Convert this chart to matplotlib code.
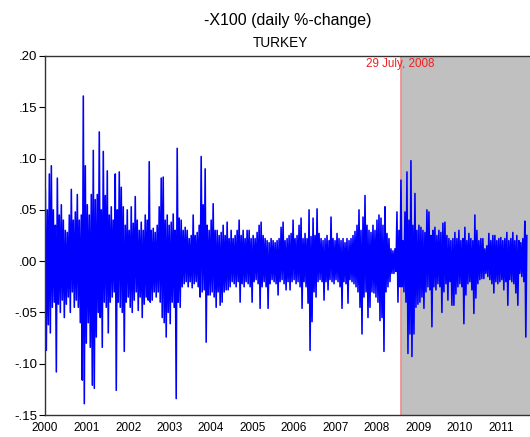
import pandas as pd
import matplotlib.pyplot as plt
import matplotlib.dates as mdates

# daily %-change of X100 (thousandths), in time order
p2000_01 = [69, -87, 50, -62, 85, -70, 93, -45, 50, -40,
            35, -108, 81, -42, 45, -50, 55, -38, 40, -55,
            30, -42, 28, -35, 45, -50, 70, -30, 40, -45,
            48, -38, 65, -45, 40, -60, 45, -116, 161, -139,
            93, -80, 55, -60, 45, -84, 65, -121, 108, -124,
            60, -74, 65, -50, 126, -55, 50, -84, 107, -40,
            64, -45, 88, -70, 45, -40, 53, -35, 40]
p2001_03 = [-30, 85, -126, 50, -40, 87, -45, 72, -50, 53,
            -88, 35, -40, 50, -35, 30, -45, 53, -50, 37,
            -38, 63, -30, 40, -48, 30, -35, 38, -55, 30,
            -42, 45, -35, 40, -38, 97, -40, 30, -38, 32,
            -30, 28, -35, 35, -30, 53, -40, 81, -55, 82,
            -60, 40, -74, 45, -50, 35, -61, 38, -40, 46,
            -45, 30, -134, 110, -40, 42, -45, 40]
p2003_04 = [-25, 30, -22, 33, -20, 30, -25, 22, -20, 25,
            -26, 45, -22, 25, -20, 28, -25, 35, -35, 102,
            -30, 55, -28, 90, -79, 35, -33, 30, -33, 40,
            -30, 56, -35, 30, -45, 30, -30, 25, -43, 28,
            -40, 35, -30, 25, -28, 38, -28, 22, -25, 30,
            -20, 22, -22, 25, -25, 30, -20, 40, -40, 25,
            -22, 30, -25, 22, -20, 30, -22, 30]
p2005_06 = [-25, 22, -40, 25, -20, 22, -18, 28, -22, 35,
            -46, 38, -25, 25, -20, 22, -25, 20, -46, 18,
            -22, 22, -18, 20, -20, 18, -22, 20, -33, 22,
            -20, 33, -18, 38, -22, 20, -28, 22, -20, 25,
            -28, 27, -20, 40, -18, 22, -22, 25, -20, 35,
            -25, 42, -46, 22, -20, 27, -25, 22, -41, 50,
            -87, 24, -59, 42, -30, 25, -35, 51]
p2006_08 = [-20, 27, -18, 22, -20, 20, -38, 22, -20, 25,
            -28, 20, -18, 43, -20, 22, -22, 20, -18, 27,
            -20, 22, -25, 20, -46, 22, -20, 18, -22, 22,
            -41, 20, -18, 22, -20, 25, -22, 29, -25, 35,
            -30, 50, -45, 30, -71, 43, -35, 64, -30, 35,
            -55, 30, -45, 28, -30, 35, -31, 30, -35, 40,
            -40, 45, -58, 42, -55, 35, -88, 53]
p2008_10 = [-30, 27, -25, 22, -20, 12, -12, 10, -12, 12,
            -10, 48, -40, 30, -25, 79, -25, 20, -30, 48,
            -40, 87, -90, 40, -71, 98, -93, 35, -71, 66,
            -45, 30, -42, 35, -40, 33, -35, 30, -46, 28,
            -30, 50, -25, 48, -28, 25, -64, 30, -25, 33,
            -28, 25, -22, 30, -25, 28, -50, 37, -30, 38,
            -22, 25, -38, 22, -20, 20, -43, 22]
p2010_11 = [-43, 28, -32, 22, -25, 30, -22, 20, -25, 22,
            -61, 33, -33, 20, -22, 27, -20, 22, -28, 20,
            -51, 45, -36, 30, -22, 20, -18, 22, -17, 22,
            -17, 12, -12, 15, -15, 27, -18, 20, -22, 25,
            -31, 25, -20, 20, -22, 22, -20, 23, -18, 20,
            -28, 22, -20, 28, -43, 20, -18, 22, -20, 28,
            -22, 20, -31, 25, -43, 20, -12, 18, -15, 22,
            -20, 39, -74, 25]

years = list(range(2000, 2012))
yticks = [0.20, 0.15, 0.10, 0.05, 0.00, -0.05, -0.10, -0.15]
ylabels = ['.20', '.15', '.10', '.05', '.00', '-.05', '-.10', '-.15']
break_date = pd.Timestamp('2008-07-29')


def main():
    plt.rcParams['font.family'] = ['Liberation Sans', 'DejaVu Sans']

    values = p2000_01 + p2001_03 + p2003_04 + p2005_06 + p2006_08 + p2008_10 + p2010_11
    s = pd.Series(values, index=pd.date_range('2000-01-03', '2011-08-15', periods=len(values))) / 1000

    fig = plt.figure(figsize=(5.3, 4.37), dpi=100)
    ax = fig.add_axes([45 / 530, 22 / 437, 485 / 530, 359 / 437])

    x_end = pd.Timestamp('2011-09-12')
    ax.axvspan(break_date, x_end, color='#c0c0c0', lw=0, zorder=0)
    ax.axvline(break_date, color='#f08a8a', lw=1.2, zorder=1)
    ax.plot(s.index, s.values, color='#0000ff', lw=1.15, zorder=2)

    ax.set_xlim(pd.Timestamp('1999-12-31'), x_end)
    ax.set_ylim(-0.15, 0.20)

    ax.set_yticks(yticks)
    ax.set_yticklabels(ylabels)
    ax.set_xticks([pd.Timestamp(f'{y}-01-01') for y in years])
    ax.xaxis.set_major_formatter(mdates.DateFormatter('%Y'))
    ax.tick_params(axis='x', length=0, pad=5, labelsize=8.5)
    ax.tick_params(axis='y', length=4, width=0.8, pad=1.5, labelsize=9.5, direction='out')

    for side in ['left', 'top', 'bottom']:
        ax.spines[side].set_color('#333333')
        ax.spines[side].set_linewidth(1)
    ax.spines['right'].set_visible(False)

    ax.text(break_date, 0.198, '29 July, 2008', color='#ee2222', fontsize=8.4,
            ha='center', va='top', zorder=3)

    fig.text(287.5 / 530, 1 - 25 / 437, '-X100 (daily %-change)', ha='center',
             va='baseline', fontsize=11.5)
    fig.text(280 / 530, 1 - 47 / 437, 'TURKEY', ha='center', va='baseline', fontsize=9.8)

    fig.savefig('out.png', dpi=100)


if __name__ == "__main__":
    main()
